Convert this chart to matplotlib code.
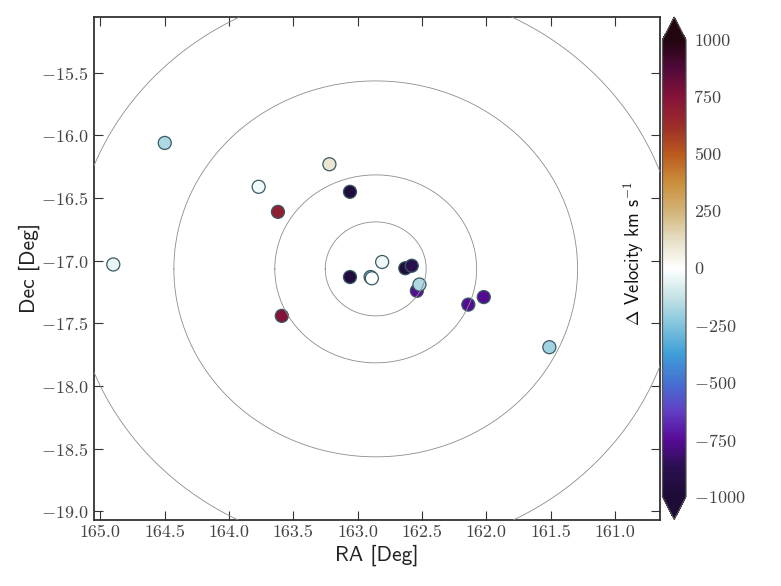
import numpy as np
import matplotlib
matplotlib.use('Agg')
import matplotlib.pyplot as plt
from matplotlib.colors import LinearSegmentedColormap

plt.rcParams['mathtext.fontset'] = 'cm'
plt.rcParams['font.family'] = ['cmr10', 'DejaVu Sans']
plt.rcParams['axes.formatter.use_mathtext'] = True
plt.rcParams['axes.unicode_minus'] = False

# galaxy positions and velocity offsets
ra = [164.50, 163.77, 163.22, 163.06, 163.62, 164.90, 163.06, 162.90, 162.89,
      162.81, 162.63, 162.58, 162.54, 162.52, 162.14, 162.02, 161.51, 163.59]
dec = [-16.06, -16.41, -16.23, -16.45, -16.61, -17.03, -17.13, -17.13, -17.14,
       -17.01, -17.06, -17.04, -17.24, -17.19, -17.35, -17.29, -17.69, -17.44]
dv = [-170, -30, 100, -960, 690, -50, -960, -230, -5,
      -35, -970, -880, -755, -170, -755, -760, -190, 750]

# rings around the group centre, radius in degrees on the sky
center_ra = 162.86
center_dec = -17.065
radii = [0.375, 0.75, 1.5, 2.25]

xticks = [165.0, 164.5, 164.0, 163.5, 163.0, 162.5, 162.0, 161.5, 161.0]
yticks = [-19.0, -18.5, -18.0, -17.5, -17.0, -16.5, -16.0, -15.5]
cticks = [-1000, -750, -500, -250, 0, 250, 500, 750, 1000]

# colours sampled along the reference colour bar, bottom to top
bar_colors = ['#1c0c36', '#2a0f50', '#580c98', '#6040c4', '#4472d2', '#3f9fd8',
              '#80c4dc', '#c6e3e6', '#ffffff', '#e6dfc6', '#d2b478', '#cb8f3c',
              '#bc5a1e', '#9c2d28', '#86133a', '#520a3a', '#220510']
cmap = LinearSegmentedColormap.from_list('velocity', bar_colors, N=256)

def tick_label(v, fmt):
    s = fmt % abs(v)
    return '$-$' + s if v < 0 else s

fig = plt.figure(figsize=(7.81, 5.86), dpi=100)
W, H = 781.0, 586.0
ax = fig.add_axes([94 / W, 1 - 519.5 / H, 566 / W, 502.5 / H])

theta = np.linspace(0, 2 * np.pi, 721)
for r in radii:
    ax.plot(center_ra + r / np.cos(np.radians(center_dec)) * np.cos(theta),
            center_dec + r * np.sin(theta),
            color='#8c8c8c', lw=0.6, zorder=4)

sc = ax.scatter(ra, dec, c=dv, cmap=cmap, vmin=-1000, vmax=1000,
                s=88, edgecolors='#3a5a64', linewidths=0.9, zorder=3)

ax.set_xlim(165.05, 160.65)
ax.set_ylim(-19.065, -15.055)
ax.set_xticks(xticks)
ax.set_xticklabels([tick_label(v, '%.1f') for v in xticks])
ax.set_yticks(yticks)
ax.set_yticklabels([tick_label(v, '%.1f') for v in yticks])
ax.tick_params(direction='in', top=True, right=True, length=6.5, width=0.8,
               color='#333333', labelsize=13, labelcolor='#444444', pad=4)
for sp in ax.spines.values():
    sp.set_linewidth(1.3)
    sp.set_color('#333333')

ax.set_xlabel('RA [Deg]', family=['cmss10', 'DejaVu Sans'], fontsize=15.5, color='#222222', labelpad=3)
ax.set_ylabel('Dec [Deg]', family=['cmss10', 'DejaVu Sans'], fontsize=15.5, color='#222222', labelpad=1)

cax = fig.add_axes([662.5 / W, 1 - 519.5 / H, 23.5 / W, 502.5 / H])
cb = fig.colorbar(sc, cax=cax, extend='both', extendfrac=0.05)
cb.set_ticks(cticks)
cb.set_ticklabels([tick_label(v, '%d') for v in cticks])
cb.ax.tick_params(length=0, labelsize=13, labelcolor='#444444', pad=6)
cb.outline.set_edgecolor('#555555')
cb.outline.set_linewidth(0.9)

fig.text(634 / W, 1 - 254 / H, r'$\Delta$ Velocity km s$^{-1}$', rotation=90,
         family=['cmss10', 'DejaVu Sans'], fontsize=13.3, color='#111111', ha='center', va='center')

fig.savefig('out.png', dpi=100)
